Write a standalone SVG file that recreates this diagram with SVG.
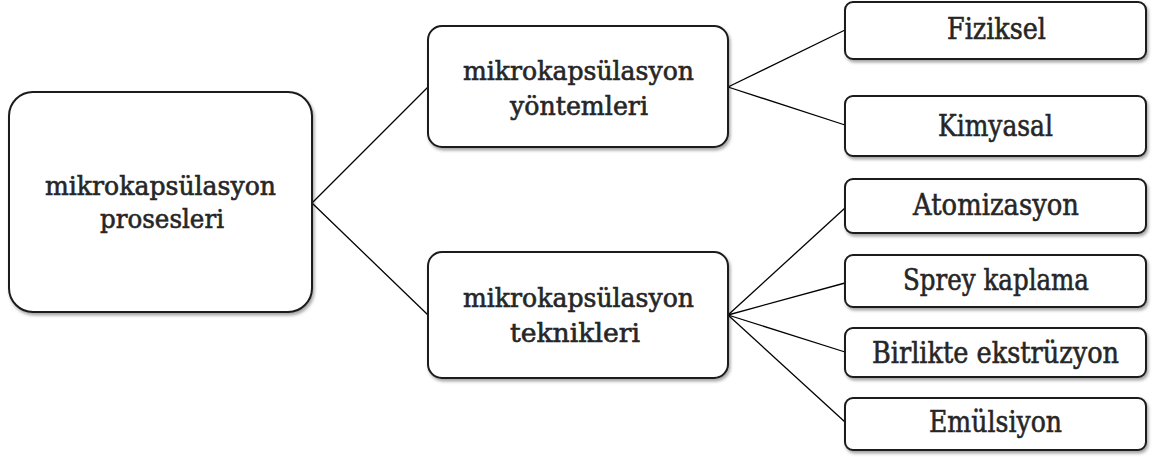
<svg xmlns="http://www.w3.org/2000/svg" width="1154" height="457" viewBox="0 0 1154 457">
  <defs>
    <filter id="shadow" x="-10%" y="-10%" width="125%" height="130%">
      <feDropShadow dx="1.5" dy="2.5" stdDeviation="1.5" flood-color="#000" flood-opacity="0.35"/>
    </filter>
  </defs>
  <style>
    .box { fill: #ffffff; stroke: #1a1a1a; stroke-width: 2; filter: url(#shadow); }
    .lbl { font-family: "DejaVu Serif", "Liberation Serif", serif; font-size: 25.5px; fill: #262626; stroke: #262626; stroke-width: 0.6; text-anchor: middle; }
    .leaf { font-size: 29px; }
    .edge { stroke: #000; stroke-width: 1.3; fill: none; }
  </style>
  <rect width="1154" height="457" fill="#ffffff"/>

  <g id="connectors">
    <line class="edge" x1="312" y1="203" x2="428" y2="87"/>
    <line class="edge" x1="312" y1="203" x2="428" y2="315"/>
    <line class="edge" x1="728" y1="87" x2="845" y2="30"/>
    <line class="edge" x1="728" y1="87" x2="845" y2="125"/>
    <line class="edge" x1="728" y1="315" x2="845" y2="208"/>
    <line class="edge" x1="728" y1="315" x2="845" y2="283"/>
    <line class="edge" x1="728" y1="315" x2="845" y2="352"/>
    <line class="edge" x1="728" y1="315" x2="845" y2="422"/>
  </g>

  <g id="node-prosesleri">
    <rect class="box" x="9" y="92" width="303" height="220" rx="24"/>
    <text class="lbl" x="160.5" y="195" textLength="231" lengthAdjust="spacingAndGlyphs">mikrokapsülasyon</text>
    <text class="lbl" x="162" y="228" textLength="124" lengthAdjust="spacingAndGlyphs">prosesleri</text>
  </g>

  <g id="node-yontemleri">
    <rect class="box" x="428" y="26" width="300" height="121" rx="14"/>
    <text class="lbl" x="578.5" y="80" textLength="231" lengthAdjust="spacingAndGlyphs">mikrokapsülasyon</text>
    <text class="lbl" x="579" y="115" textLength="138" lengthAdjust="spacingAndGlyphs">yöntemleri</text>
  </g>

  <g id="node-teknikleri">
    <rect class="box" x="428" y="252" width="300" height="126" rx="14"/>
    <text class="lbl" x="578.5" y="307" textLength="231" lengthAdjust="spacingAndGlyphs">mikrokapsülasyon</text>
    <text class="lbl" x="575" y="342" textLength="130" lengthAdjust="spacingAndGlyphs">teknikleri</text>
  </g>

  <g id="node-fiziksel">
    <rect class="box" x="845" y="2" width="301" height="57" rx="8"/>
    <text class="lbl leaf" x="996.5" y="39" textLength="99" lengthAdjust="spacingAndGlyphs">Fiziksel</text>
  </g>

  <g id="node-kimyasal">
    <rect class="box" x="845" y="96" width="301" height="60" rx="8"/>
    <text class="lbl leaf" x="995.5" y="136" textLength="115" lengthAdjust="spacingAndGlyphs">Kimyasal</text>
  </g>

  <g id="node-atomizasyon">
    <rect class="box" x="845" y="179" width="301" height="54" rx="8"/>
    <text class="lbl leaf" x="996" y="215" textLength="166" lengthAdjust="spacingAndGlyphs">Atomizasyon</text>
  </g>

  <g id="node-sprey">
    <rect class="box" x="845" y="255" width="301" height="52" rx="8"/>
    <text class="lbl leaf" x="996" y="290" textLength="186" lengthAdjust="spacingAndGlyphs">Sprey kaplama</text>
  </g>

  <g id="node-birlikte">
    <rect class="box" x="845" y="328" width="301" height="49" rx="8"/>
    <text class="lbl leaf" x="995.5" y="363" textLength="247" lengthAdjust="spacingAndGlyphs">Birlikte ekstrüzyon</text>
  </g>

  <g id="node-emulsiyon">
    <rect class="box" x="845" y="398" width="301" height="52" rx="8"/>
    <text class="lbl leaf" x="995.5" y="432" textLength="133" lengthAdjust="spacingAndGlyphs">Emülsiyon</text>
  </g>
</svg>
